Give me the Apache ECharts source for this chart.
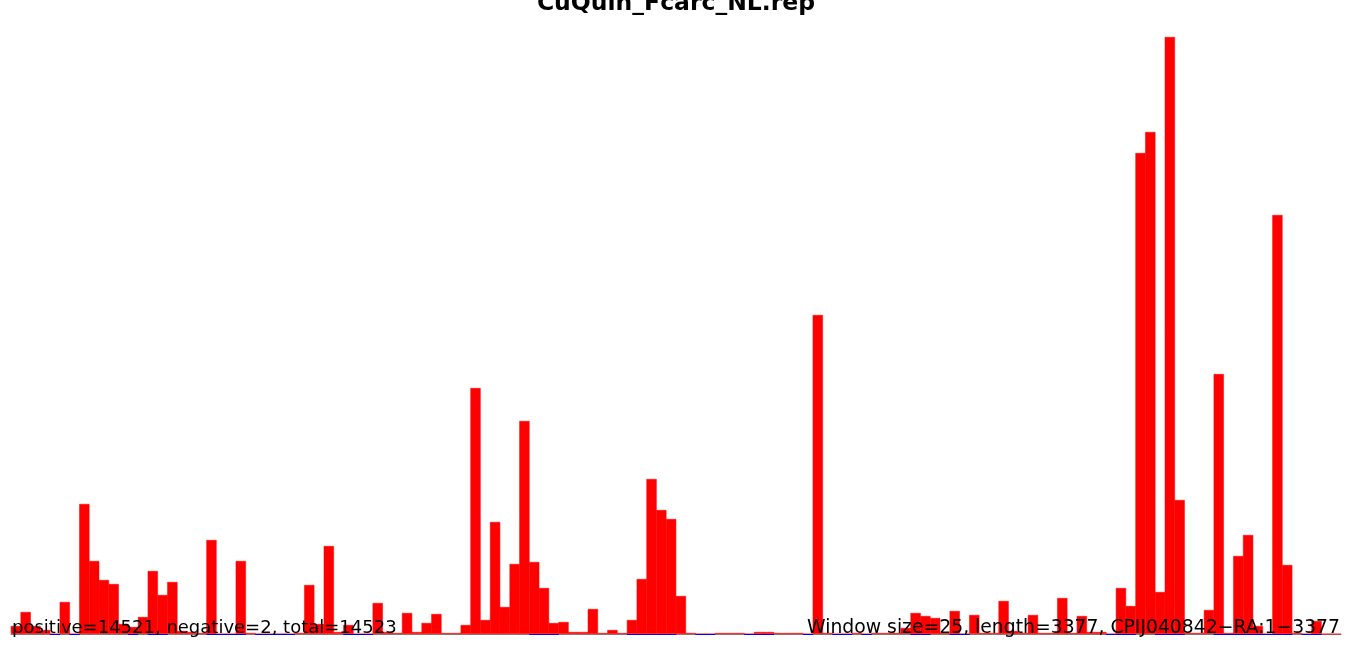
<!DOCTYPE html>
<html>
<head>
<meta charset="utf-8">
<script src="https://cdn.jsdelivr.net/npm/echarts@6/dist/echarts.min.js"></script>
<style>
html,body{margin:0;padding:0;background:#fff;}
#chart{width:1352px;height:646px;}
</style>
</head>
<body>
<div id="chart"></div>
<script>
// Window counts (window size 25 over length 3377)
const windowSize = 25;
const seqLength = 3377;
const values = [
  8, 22, 8, 4, 0, 32, 0, 130, 73, 54,
  50, 10, 7, 17, 63, 39, 52, 3, 2, 1,
  94, 0, 0, 73, 1, 0, 0, 0, 0, 1,
  49, 10, 88, 2, 9, 0, 0, 31, 2, 1,
  21, 2, 11, 20, 1, 1, 9, 246, 14, 112,
  27, 70, 213, 72, 46, 11, 12, 2, 2, 25,
  1, 4, 1, 14, 55, 155, 124, 115, 38, 1,
  0, 0, 1, 1, 1, 0, 2, 2, 1, 1,
  1, 0, 319, 1, 0, 0, 1, 0, 1, 1,
  1, 6, 21, 18, 16, 1, 23, 0, 19, 1,
  1, 33, 3, 1, 19, 1, 1, 36, 1, 18,
  2, 2, 0, 46, 28, 481, 502, 42, 597, 134,
  1, 1, 24, 260, 1, 78, 99, 8, 0, 419,
  69, 1, 0, 13, 0, 0
];
// bins where the blue (negative strand) baseline mark is visible
const blueBins = [4,6,12,14,15,20,21,22,23,25,26,27,28,34,35,36,53,54,55,63,64,65,66,67,70,71,75,76,77,81,84,85,87,92,93,96,97,112,113,114,117,118,119,123,124,125,126,127,128,129,130,132,133];
const titleText = 'CuQuin_Fcarc_NL.rep';
const leftNote = 'positive=14521, negative=2, total=14523';
const rightNote = 'Window size=25, length=3377, CPIJ040842\u2212RA:1\u22123377';

const categories = values.map((_, i) => String(i * windowSize + 1));
const blueData = values.map((_, i) => blueBins.indexOf(i) >= 0 ? -1 : null);

const chart = echarts.init(document.getElementById('chart'), null, {renderer: 'canvas'});
chart.setOption({
  animation: false,
  backgroundColor: '#ffffff',
  grid: {left: 11, right: 11, top: 37, bottom: 11, containLabel: false},
  xAxis: {
    type: 'category',
    data: categories,
    axisLine: {show: true, onZero: true, lineStyle: {color: '#808080', width: 1}},
    axisTick: {show: false},
    axisLabel: {show: false},
    splitLine: {show: false}
  },
  yAxis: {
    type: 'value',
    min: -1,
    max: 597,
    show: false,
    splitLine: {show: false}
  },
  series: [
    {
      type: 'bar',
      data: values,
      barWidth: 10.2,
      barGap: '-100%',
      itemStyle: {color: '#ff0000', borderColor: '#ff0000', borderWidth: 0.5},
      z: 3
    },
    {
      type: 'bar',
      data: blueData,
      barWidth: 10.2,
      barGap: '-100%',
      itemStyle: {color: '#0000ff'},
      z: 4
    }
  ],
  graphic: [
    {
      type: 'text', z: 10,
      style: {text: titleText, x: 676, y: 3.5, align: 'center', verticalAlign: 'middle',
        font: 'bold 23.5px "DejaVu Sans"', fill: '#000'}
    },
    {
      type: 'text', z: 10,
      style: {text: leftNote, x: 12, y: 628, align: 'left', verticalAlign: 'middle',
        font: '18px "DejaVu Sans"', fill: '#000'}
    },
    {
      type: 'text', z: 10,
      style: {text: rightNote, x: 1340, y: 628, align: 'right', verticalAlign: 'middle',
        font: '18.8px "DejaVu Sans"', fill: '#000'}
    }
  ]
});
</script>
</body>
</html>
